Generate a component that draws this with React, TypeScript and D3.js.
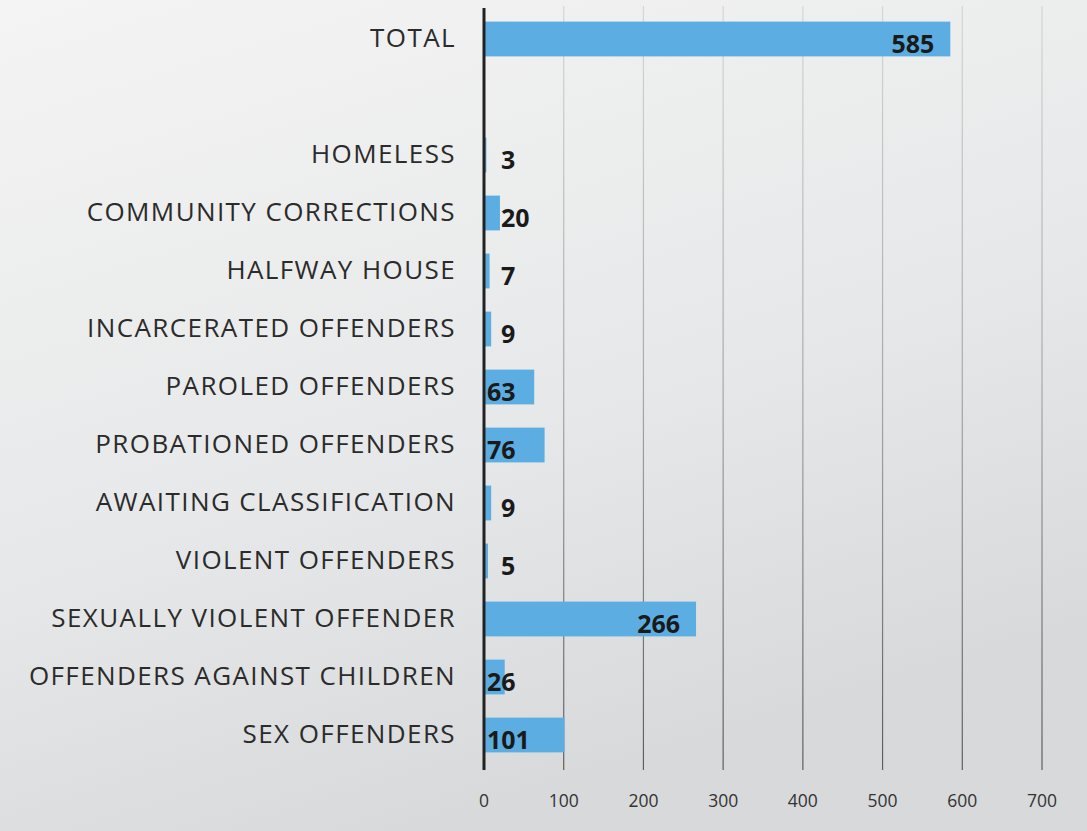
import React from 'react';
import * as d3 from 'd3';

const categories = [
  'TOTAL',
  ' ',
  'HOMELESS',
  'COMMUNITY CORRECTIONS',
  'HALFWAY HOUSE',
  'INCARCERATED OFFENDERS',
  'PAROLED OFFENDERS',
  'PROBATIONED OFFENDERS',
  'AWAITING CLASSIFICATION',
  'VIOLENT OFFENDERS',
  'SEXUALLY VIOLENT OFFENDER',
  'OFFENDERS AGAINST CHILDREN',
  'SEX OFFENDERS',
];
const values = [585, null, 3, 20, 7, 9, 63, 76, 9, 5, 266, 26, 101];
const ticks = [0, 100, 200, 300, 400, 500, 600, 700];

const W = 1087;
const H = 831;
const font = "'Open Sans', Lato, sans-serif";

export default function App() {
  const x = d3.scaleLinear().domain([0, 700]).range([484, 484 + 558]);
  const y = d3
    .scaleBand()
    .domain(categories)
    .range([10, 10 + 58 * categories.length])
    .paddingInner(0.4)
    .paddingOuter(0.2);
  const bw = y.bandwidth();

  const labelX = (v: number) => {
    if (v >= 150) return { x: x(v) - 16, anchor: 'end' };
    if (v <= 20) return { x: x(0) + 17, anchor: 'start' };
    return { x: x(0) + 3, anchor: 'start' };
  };

  return (
    <svg width={W} height={H} style={{ position: 'absolute', left: 0, top: 0, display: 'block' }}>
      <defs>
        <linearGradient id="paper" x1="0" y1="0" x2="0.4" y2="1">
          <stop offset="0" stopColor="#f4f4f4" />
          <stop offset="0.6" stopColor="#e7e8e9" />
          <stop offset="1" stopColor="#d8d9da" />
        </linearGradient>
        <linearGradient id="grid" x1="0" y1="0" x2="0" y2="1">
          <stop offset="0" stopColor="#d6d6d6" />
          <stop offset="0.5" stopColor="#a8a8a8" />
          <stop offset="1" stopColor="#5e5e5e" />
        </linearGradient>
      </defs>
      <rect width={W} height={H} fill="url(#paper)" />

      {ticks.slice(1).map((t) => (
        <rect key={t} x={x(t) - 0.6} y={6} width={1.2} height={764} fill="url(#grid)" />
      ))}

      {categories.map((c, i) => {
        const v = values[i];
        const cy = (y(c) as number) + bw / 2;
        return (
          <g key={i}>
            {v !== null && (
              <rect x={x(0)} y={y(c)} width={x(v) - x(0)} height={bw} fill="#5caee2" />
            )}
            <text
              x={456}
              y={cy - 1}
              dy="0.35em"
              textAnchor="end"
              fontFamily={font}
              fontSize={26}
              letterSpacing={1.4}
              fill="#2b2b2b"
            >
              {c}
            </text>
            {v !== null && (
              <text
                x={labelX(v).x}
                y={cy + 5}
                dy="0.35em"
                textAnchor={labelX(v).anchor as any}
                fontFamily={font}
                fontWeight="bold"
                fontSize={25}
                fill="#1a1a1a"
              >
                {v}
              </text>
            )}
          </g>
        );
      })}

      <line x1={x(0)} x2={x(0)} y1={8} y2={770} stroke="#222" strokeWidth={3} />

      {ticks.map((t) => (
        <text
          key={t}
          x={x(t)}
          y={801}
          dy="0.35em"
          textAnchor="middle"
          fontFamily={font}
          fontSize={17.5}
          fill="#333"
        >
          {t}
        </text>
      ))}
    </svg>
  );
}
